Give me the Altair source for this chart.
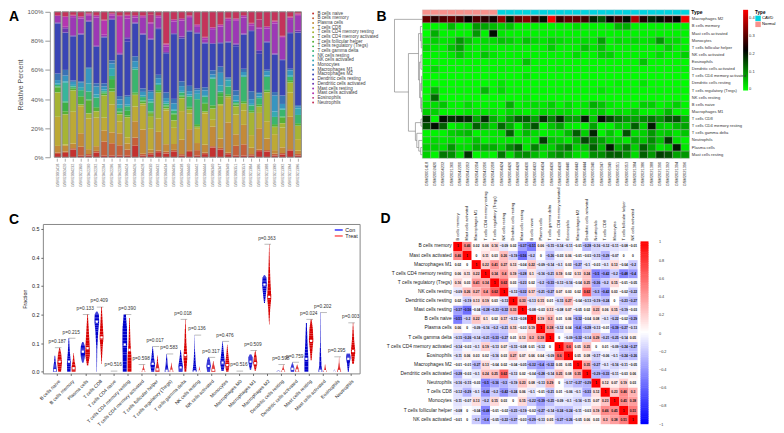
import altair as alt
import pandas as pd

FONT = "Liberation Sans"
samples = ["GSM2001418","GSM2002420","GSM2004232","GSM2021360","GSM2042200","GSM2042202","GSM2042204","GSM2042206",
           "GSM2042208","GSM2004424","GSM2004426","GSM2004428","GSM2004430","GSM2004432","GSM2004434","GSM2004436",
           "GSM2004438","GSM2004440","GSM2004442","GSM2004444","GSM2006340","GSM2006347","GSM2006349","GSM2006351",
           "GSM2006353","GSM2021384","GSM2021386","GSM2021388","GSM2021390","GSM2021392","GSM2021394","GSM2021396"]
sample_type = ["Normal"] * 9 + ["CAVD"] * 23

heat_rows = {
 "Macrophages M2": [.31,.26,.29,.31,.28,.23,.29,.26,.24,.35,.20,.31,.34,.27,.21,.44,.27,.31,.31,.28,.19,.15,.23,.27,.21,.38,.25,.19,.21,.25,.22,.44],
 "B cells memory": [.01,.01,.01,.06,.01,.01,.09,.08,.06,.04,.05,.01,.01,.01,.01,.01,.01,.01,.03,.01,.01,.01,.01,.06,.07,.01,.01,.01,.01,.01,.01,.01],
 "Mast cells activated": [0,.07,.01,.01,.01,.01,.09,.01,.21,.02,.01,.01,.01,.01,.01,.01,.01,.01,.01,.01,.01,.01,.01,.01,.01,.01,.01,.01,.01,.01,.01,.01],
 "Monocytes": [.02,.04,.02,.03,.09,.05,.02,.03,.03,.05,.04,.02,.05,.03,.02,.04,.03,.02,.02,.03,.02,.08,.01,.03,.02,.03,.02,.03,.09,.03,.03,.01],
 "T cells follicular helper": [.03,.02,.01,.05,.08,.02,.01,.02,.01,.01,.01,.01,.01,.01,.01,.04,.01,.01,.01,.05,.02,.05,.01,.01,.01,.01,.01,.01,.01,.04,.01,.01],
 "NK cells activated": [.01,.01,.01,.02,.05,.02,.01,.05,.02,.01,.01,.01,.01,.01,.01,.01,.01,.01,.03,.01,.01,.04,.04,.01,.01,.01,.01,.01,.03,.01,.01,.04],
 "Eosinophils": [.005,.005,.005,.005,.005,.005,.005,.005,.005,.005,.005,.005,.05,.005,.005,.005,.005,.005,.005,.005,.005,.005,.005,.005,.005,.005,.05,.005,.005,.005,.005,.005],
 "Dendritic cells activated": [.005,.03,.005,.005,.005,.005,.005,.005,.005,.01,.005,.005,.005,.005,.005,.005,.01,.005,.005,.005,.005,.005,.005,.005,.005,.005,.005,.005,.005,.005,.005,.01],
 "T cells CD4 memory activated": [.002,.002,.002,.002,.002,.002,.002,.002,.002,.002,.002,.002,.02,.002,.002,.002,.002,.002,.002,.002,.002,.002,.002,.002,.002,.002,.002,.002,.002,.002,.002,.002],
 "Dendritic cells resting": [.002,.002,.002,.002,.002,.002,.002,.002,.002,.02,.002,.002,.002,.002,.002,.002,.002,.002,.002,.002,.002,.002,.002,.01,.002,.002,.02,.002,.002,.002,.002,.002],
 "T cells regulatory (Tregs)": [.005,.06,.005,.005,.005,.005,.005,.06,.005,.03,.005,.005,.005,.005,.005,.005,.005,.005,.005,.005,.005,.02,.005,.005,.005,.005,.005,.005,.005,.005,.005,.005],
 "NK cells resting": [0,.13,0,0,0,0,0,0,0,0,0,0,.01,0,0,0,0,0,0,0,0,0,0,0,0,0,0,0,0,0,0,0],
 "B cells naive": [.02,.03,.05,.01,.01,.03,.01,.01,.01,.01,.07,.01,.02,.03,.02,.04,.01,.03,.01,.02,.07,.05,.02,.01,.01,.01,.04,.04,.01,.02,.04,.01],
 "Macrophages M1": [.04,.04,.01,.01,.01,.02,.02,.02,.02,.01,.03,.02,.01,.02,.03,.03,.03,.03,.01,.02,.03,.04,.01,.03,.02,.05,.01,.01,.02,.06,.01,.01],
 "T cells CD8": [.18,.01,.21,.18,.19,.18,.08,.18,.07,.04,.09,.14,.14,.08,.18,.11,.18,.09,.08,.20,.05,.21,.16,.12,.09,.08,.10,.12,.09,.14,.15,.07],
 "T cells CD4 memory resting": [.15,.21,.14,.01,.03,.04,.14,.08,.04,.13,.07,.01,.08,.15,.01,.05,.08,.02,.01,.01,.08,.01,.01,.05,.04,.14,.04,.20,.04,.03,.06,.08],
 "T cells gamma delta": [.01,.01,.01,.04,.05,.06,.01,.02,.02,.03,.14,.02,.06,.03,.01,.02,.02,.06,.14,.04,.19,.01,.05,.01,.15,.03,.04,.09,.04,.05,.02,.05],
 "Neutrophils": [.02,.03,.02,.03,.01,.02,.05,.01,.02,.02,.02,.02,.02,.02,.17,.05,.04,.02,.07,.16,.11,.08,.04,.04,.02,.07,.05,.10,.05,.17,.03,.01],
 "Plasma cells": [.04,.04,.03,.09,.03,.03,.07,.07,.07,.04,.10,.14,.02,.11,.04,.04,.09,.12,.04,.05,.14,.06,.20,.07,.12,.04,.14,.08,.02,.04,.20,.02],
 "Mast cells resting": [.04,.01,.12,.10,.03,.18,.01,.02,.01,.12,.03,.09,.10,.06,.03,.08,.10,.07,.03,.02,.10,.10,.14,.14,.10,.03,.14,.09,.17,.15,.08,.09],
}
heat_order = list(heat_rows)

stack_types = ["B cells naive","B cells memory","Plasma cells","T cells CD8","T cells CD4 memory resting",
               "T cells CD4 memory activated","T cells follicular helper","T cells regulatory (Tregs)",
               "T cells gamma delta","NK cells resting","NK cells activated","Monocytes","Macrophages M1",
               "Macrophages M2","Dendritic cells resting","Dendritic cells activated","Mast cells resting",
               "Mast cells activated","Eosinophils","Neutrophils"]
stack_colors = ["#C4312F","#C6603A","#C38A38","#BDA935","#A6B434","#7EB232","#57B136","#3DB046","#3AB56E","#38B59B",
                "#36A9B2","#3795C0","#3A72B5","#3A45B5","#4B3AB5","#6C36B0","#9C38B5","#B535B0","#B8347E","#C4335A"]

corr_names = ["B cells memory","Mast cells activated","Macrophages M1","T cells CD4 memory resting","T cells regulatory (Tregs)",
              "NK cells resting","Dendritic cells resting","Mast cells resting","B cells naive","Plasma cells",
              "T cells gamma delta","T cells CD4 memory activated","Eosinophils","Macrophages M2","Dendritic cells activated",
              "Neutrophils","T cells CD8","Monocytes","T cells follicular helper","NK cells activated"]
corr_vals = [
 [1,.46,.02,.06,.16,-.09,.02,-.37,-.51,.06,-.15,-.14,-.11,-.01,-.28,-.16,-.12,-.11,-.08,-.01],
 [.46,1,0,.11,.03,.26,-.19,-.56,-.2,0,-.26,-.03,.06,-.01,-.03,-.15,-.29,-.07,0,0],
 [.02,0,1,.22,.41,.27,.13,-.04,.22,-.09,-.14,-.1,.03,-.27,-.1,-.03,-.1,.13,-.04,-.2],
 [.06,.11,.22,1,.34,.4,.19,-.28,.1,-.16,-.21,.19,.02,.13,.24,-.5,-.42,-.2,-.48,-.4],
 [.16,.03,.41,.34,1,.62,.03,-.23,.02,-.2,-.33,-.13,-.16,-.04,.25,-.36,-.2,.15,-.01,-.05],
 [-.09,.26,.27,.4,.62,1,-.13,-.32,.17,-.21,-.27,.07,.03,.02,.62,-.3,-.42,.03,-.02,-.22],
 [.02,-.19,.13,.19,.03,-.13,1,.33,-.13,.15,.01,-.15,.27,-.04,-.13,-.19,-.24,0,-.23,-.27],
 [-.37,-.56,-.04,-.28,-.23,-.32,.33,1,-.08,-.03,.13,-.08,.07,-.05,.02,.23,.06,.15,-.19,-.03],
 [-.51,-.2,.22,.1,.02,.17,-.13,-.08,1,.19,.3,.01,.06,-.32,-.04,.08,-.1,-.22,-.02,-.29],
 [.06,0,-.09,-.16,-.2,-.21,.15,-.03,.19,1,.38,-.12,.04,-.4,-.28,-.13,-.01,-.39,-.27,-.13],
 [-.15,-.26,-.14,-.21,-.33,-.27,.01,.13,.3,.38,1,0,-.09,-.32,-.14,.29,-.21,-.25,-.14,.05],
 [-.14,-.03,-.1,.19,-.13,.07,-.15,-.08,.01,-.12,0,1,.6,.05,.25,0,.01,-.09,-.24,-.27],
 [-.11,.06,.03,.02,-.16,.03,.27,.07,.06,.04,-.09,.6,1,.05,.08,-.17,-.06,-.1,-.24,-.26],
 [-.01,-.01,-.27,.13,-.04,.02,-.04,-.05,-.32,-.4,-.32,.05,.05,1,.35,-.27,-.1,-.16,-.11,-.05],
 [-.28,-.03,-.1,.24,.25,.62,-.13,.02,-.04,-.28,-.14,.25,.08,.35,1,-.29,-.33,-.11,-.03,.06],
 [-.16,-.15,-.03,-.5,-.36,-.3,-.19,.23,.08,-.13,.29,0,-.17,-.27,-.29,1,.12,.07,.19,.03],
 [-.12,-.29,-.1,-.42,-.2,-.42,-.24,.06,-.1,-.01,-.21,.01,-.06,-.1,-.33,.12,1,.23,.46,.3],
 [-.11,-.07,.13,-.2,.15,.03,0,.15,-.22,-.39,-.25,-.09,-.1,-.16,-.11,.07,.23,1,.45,.38],
 [-.08,0,-.04,-.48,-.01,-.02,-.23,-.19,-.02,-.27,-.14,-.24,-.24,-.11,-.03,.19,.46,.45,1,.51],
 [-.01,0,-.2,-.4,-.05,-.22,-.27,-.03,-.29,-.13,.05,-.27,-.26,-.05,.06,.03,.3,.38,.51,1],
]
cbar_ticks = [-1, -.8, -.6, -.4, -.2, 0, .2, .4, .6, .8, 1]

vio_names = ["B cells naive","B cells memory","Plasma cells","T cells CD8","T cells CD4 naive","T cells CD4 memory resting",
             "T cells CD4 memory activated","T cells follicular helper","T cells regulatory (Tregs)","T cells gamma delta",
             "NK cells resting","NK cells activated","Monocytes","Macrophages M0","Macrophages M1","Macrophages M2",
             "Dendritic cells resting","Dendritic cells activated","Mast cells resting","Mast cells activated",
             "Eosinophils","Neutrophils"]
p_labels = ["p=0.187","p=0.215","p=0.133","p=0.409","p=0.516","p=0.390","p=0.598","p=0.017","p=0.583","p=0.018","p=0.136",
            "p=0.317","p=0.476","p=0.516","p=0.509","p=0.363","p=0.598","p=0.759","p=0.024","p=0.202","p=0.295","p=0.003"]
p_tops = [.084,.117,.2,.226,.002,.2,.025,.088,.062,.183,.128,.05,.106,.002,.074,.446,.025,.033,.183,.207,.052,.171]
# violin outlines: (fraction, half width in category units)
con_shapes = [
 [(0,.14),(.01,.13),(.03,.07),(.056,.02)],
 [(0,.12),(.03,.14),(.07,.07),(.117,.02)],
 [(.032,.05),(.05,.14),(.07,.17),(.09,.14),(.103,.05)],
 [(0,.01),(.08,.03),(.14,.1),(.175,.17),(.2,.15),(.21,.05)],
 [(0,.06),(.001,.06)],
 [(0,.14),(.06,.15),(.1,.17),(.15,.16),(.2,.08)],
 [(0,.05),(.002,.03)],
 [(0,.1),(.025,.17),(.05,.09),(.088,.01)],
 [(0,.15),(.02,.08),(.04,.05),(.062,.01)],
 [(0,.14),(.02,.16),(.05,.07),(.075,.02)],
 [(0,.15),(.03,.08),(.08,.02),(.128,.005)],
 [(0,.1),(.02,.16),(.04,.1),(.05,.03)],
 [(.003,.08),(.03,.17),(.07,.08),(.106,.01)],
 [(0,.06),(.001,.06)],
 [(.007,.04),(.03,.14),(.05,.16),(.06,.06)],
 [(.24,.03),(.27,.1),(.305,.17),(.33,.14),(.338,.03)],
 [(0,.15),(.003,.08),(.005,.02)],
 [(0,.12),(.012,.14),(.025,.06),(.033,.01)],
 [(0,.14),(.045,.14),(.1,.08),(.17,.03)],
 [(0,.15),(.02,.08),(.1,.02),(.207,.01)],
 [(0,.1),(.004,.05),(.007,.01)],
 [(0,.03),(.03,.1),(.05,.17),(.063,.12)],
]
trt_shapes = [
 [(0,.1),(.03,.17),(.06,.12),(.084,.02)],
 [(0,.14),(.015,.15),(.04,.06),(.065,.01)],
 [(.022,.04),(.06,.17),(.1,.14),(.15,.08),(.2,.02)],
 [(.027,.01),(.08,.07),(.12,.14),(.17,.08),(.226,.02)],
 [(0,.06),(.001,.06)],
 [(0,.14),(.05,.14),(.1,.07),(.15,.04),(.188,.02)],
 [(0,.14),(.006,.09),(.015,.03),(.025,.01)],
 [(0,.15),(.012,.13),(.03,.05),(.057,.01)],
 [(0,.15),(.008,.09),(.02,.03),(.031,.01)],
 [(0,.06),(.05,.14),(.1,.07),(.183,.01)],
 [(0,.1),(.005,.04),(.018,.005)],
 [(0,.15),(.012,.12),(.025,.05),(.037,.01)],
 [(0,.08),(.025,.16),(.06,.07),(.094,.01)],
 [(0,.06),(.001,.06)],
 [(.003,.03),(.03,.15),(.05,.1),(.074,.01)],
 [(.165,.01),(.22,.07),(.26,.15),(.32,.08),(.38,.04),(.446,.01)],
 [(0,.15),(.006,.09),(.015,.03),(.025,.005)],
 [(0,.15),(.008,.12),(.018,.05),(.025,.01)],
 [(.04,.03),(.08,.1),(.11,.16),(.15,.12),(.183,.03)],
 [(0,.15),(.006,.06),(.025,.01)],
 [(0,.15),(.01,.09),(.03,.02),(.052,.005)],
 [(.028,.06),(.07,.16),(.11,.08),(.171,.01)],
]
con_med = [.005,.035,.07,.175,0,.095,0,.028,.003,.015,.001,.02,.032,0,.035,.305,0,.01,.045,.003,.001,.045]
trt_med = [.035,.012,.082,.12,0,.076,.002,.008,.003,.058,.001,.006,.023,0,.03,.262,.002,.004,.108,.002,.002,.072]
groups = ["Con", "Treat"]
group_colors = ["#0000CC", "#D80000"]

# dendrogram branches: height1, row1, height2, row2
dendro_segs = [
 (1,0,1,10.2),(1,0,0,0),(1,10.2,.5,10.2),(.5,4.8,.5,15.7),(.5,4.8,.14,4.8),(.14,2,.14,8.5),
 (.14,2,.07,2),(.07,1,.07,3),(.07,1,0,1),(.07,3,.04,3),(.04,2,.04,4),(.04,2,0,2),(.04,4,0,4),
 (.14,8.5,.1,8.5),(.1,6,.1,11),(.1,6,.05,6),(.05,5,.05,7),(.05,5,0,5),(.05,7,0,7),
 (.1,11,.06,11),(.06,9,.06,12.5),(.06,9,.03,9),(.03,8,.03,10),(.03,8,0,8),(.03,10,0,10),
 (.06,12.5,.03,12.5),(.03,11,.03,13),(.03,11,0,11),(.03,13,0,13),(.03,12,0,12),
 (.5,15.7,.25,15.7),(.25,14.5,.25,17),(.25,14.5,.05,14.5),(.05,14,.05,15),(.05,14,0,14),(.05,15,0,15),
 (.25,17,.2,17),(.2,16,.2,18),(.2,16,0,16),(.2,18,.13,18),(.13,17,.13,18.5),(.13,17,0,17),
 (.13,18.5,.06,18.5),(.06,18,.06,19),(.06,18,0,18),(.06,19,0,19),
]

# ---------- tables ----------
stack_df = pd.DataFrame([{"sample": s, "type": t, "idx": k, "v": heat_rows[t][i]}
                         for i, s in enumerate(samples) for k, t in enumerate(stack_types)])
outline_df = pd.DataFrame({"sample": samples, "v": [1] * len(samples)})
heat_df = pd.DataFrame([{"sample": s, "row": r, "v": heat_rows[r][i]}
                        for i, s in enumerate(samples) for r in heat_order])
ann_df = pd.DataFrame({"sample": samples, "Type": sample_type})
seg_df = pd.DataFrame(dendro_segs, columns=["h1", "r1", "h2", "r2"])
corr_df = pd.DataFrame([{"a": a, "b": b, "v": corr_vals[i][j]}
                        for i, a in enumerate(corr_names) for j, b in enumerate(corr_names)])
cbar_df = pd.DataFrame([{"v": k / 50, "v2": (k + 1.3) / 50} for k in range(-50, 50)])

rows = []
meds = []
for i, (cs, ts) in enumerate(zip(con_shapes, trt_shapes)):
    for grp, sh, off, med_v in (("Con", cs, -.17, con_med[i]), ("Treat", ts, .17, trt_med[i])):
        c = i + off
        for (y0, w0), (y1, w1) in zip(sh[:-1], sh[1:]):
            for s in range(5):
                a = s / 5
                b = (s + 1) / 5
                w = w0 + (w1 - w0) * (a + b) / 2
                rows.append({"grp": grp, "y": y0 + (y1 - y0) * a, "y2": y0 + (y1 - y0) * b,
                             "xa": c - w, "xb": c + w})
        meds.append({"x": c, "y": med_v})
vio_df = pd.DataFrame(rows)
med_df = pd.DataFrame(meds)
p_df = pd.DataFrame({"i": list(range(22)), "x1": [i - .17 for i in range(22)], "x2": [i + .3 for i in range(22)],
                     "top": p_tops, "lab": p_labels, "ty": [t + .02 for t in p_tops]})
leg_df = pd.DataFrame({"grp": groups, "yp": [.496, .475], "x1": [19.86, 19.86], "x2": [20.43, 20.43],
                       "xt": [20.62, 20.62]})


def spacer(w, h=1):
    return alt.Chart(pd.DataFrame({"a": [0]})).mark_point(opacity=0).encode(
        x=alt.value(0), y=alt.value(0)).properties(width=w, height=h)


def letter(s, x, y):
    return alt.Chart(pd.DataFrame({"s": [s]})).mark_text(
        fontSize=14, fontWeight="bold", align="left", baseline="top", color="black", font=FONT
    ).encode(text="s:N", x=alt.value(x), y=alt.value(y))


def indep(c):
    return c.resolve_scale(color="independent", fill="independent", stroke="independent").resolve_legend(
        color="independent", fill="independent", stroke="independent")


GREY = "#666666"
# ---------- A ----------
axA_x = alt.Axis(labelAngle=-90, labelFontSize=3.8, labelColor=GREY, tickColor="#999999", tickSize=3,
                 tickWidth=.8, domain=False, offset=1, labelPadding=2, labelBaseline="middle",
                 labelOverlap=False, title=None)
axA_y = alt.Axis(format=".0%", values=[0, .2, .4, .6, .8, 1], labelFontSize=6.2, labelColor="#555555",
                 titleFontSize=7, titleColor="#555555", titleFontWeight="normal", domainColor="#999999",
                 tickColor="#999999", domainWidth=1, tickWidth=1, tickSize=5, grid=False, offset=4,
                 labelPadding=2, titlePadding=4, labelOverlap=False, title="Relative Percent")
scA_x = alt.Scale(paddingInner=.13, paddingOuter=.06)
scA_y = alt.Scale(domain=[0, 1], nice=False)
bars = alt.Chart(stack_df).mark_bar().encode(
    x=alt.X("sample:N", sort=samples, scale=scA_x, axis=axA_x),
    y=alt.Y("v:Q", stack="normalize", scale=scA_y, axis=axA_y),
    color=alt.Color("type:N", sort=stack_types, scale=alt.Scale(domain=stack_types, range=stack_colors),
                    legend=alt.Legend(orient="none", legendX=258, legendY=-.5, title=None, symbolType="circle",
                                      symbolSize=4, labelFontSize=4.6, labelColor="#444444", rowPadding=-.3,
                                      padding=0, symbolOffset=0, labelOffset=2)),
    order=alt.Order("idx:Q"))
outline = alt.Chart(outline_df).mark_bar(fillOpacity=0, stroke="#8c8c8c", strokeWidth=1).encode(
    x=alt.X("sample:N", sort=samples, scale=scA_x, axis=axA_x),
    y=alt.Y("v:Q", scale=scA_y, axis=axA_y))
panelA = alt.layer(bars, outline, letter("A", -45, -2)).properties(width=249, height=146)

# ---------- B ----------
ann = alt.layer(
    alt.Chart(ann_df).mark_rect(stroke="#bbbbbb", strokeWidth=.3).encode(
        x=alt.X("sample:N", sort=samples, axis=None),
        y=alt.value(-2), y2=alt.value(3),
        fill=alt.Fill("Type:N", scale=alt.Scale(domain=["CAVD", "Normal"], range=["#00D3E0", "#F8918C"]),
                      legend=alt.Legend(orient="none", legendX=334, legendY=-2, title="Type", titleFontSize=4.6,
                                        titleFontWeight="bold", titlePadding=1, labelFontSize=4.2, symbolType="square",
                                        symbolSize=30, symbolStrokeWidth=0, padding=0, rowPadding=0, labelOffset=1))),
    alt.Chart(pd.DataFrame({"s": ["Type"]})).mark_text(
        fontSize=5, fontWeight="bold", align="left", baseline="middle", color="black", font=FONT
    ).encode(text="s:N", x=alt.value(270), y=alt.value(.5)),
).properties(width=268, height=3)
heat = alt.Chart(heat_df).mark_rect(stroke="#9a9a9a", strokeWidth=.4).encode(
    x=alt.X("sample:N", sort=samples, title=None,
            axis=alt.Axis(labelAngle=-90, labelFontSize=4, labelColor="#333333", ticks=False, domain=False,
                          labelPadding=3, labelBaseline="middle", labelOverlap=False)),
    y=alt.Y("row:N", sort=heat_order, title=None,
            axis=alt.Axis(orient="right", labelFontSize=4.1, labelColor="#333333", ticks=False, domain=False,
                          labelPadding=2, labelOverlap=False)),
    fill=alt.Fill("v:Q", scale=alt.Scale(domain=[0, .223, .446], range=["#00ff00", "#000000", "#ff0000"],
                                         interpolate="rgb"),
                  legend=alt.Legend(orient="none", legendX=322, legendY=-6, title=None, gradientLength=81,
                                    gradientThickness=5, values=[0, .1, .2, .3, .4], labelFontSize=4, padding=0,
                                    format="~g", labelColor="#333333", labelOffset=1)),
).properties(width=268, height=143)
dendro = alt.layer(
    alt.Chart(seg_df).mark_rule(color="#777777", strokeWidth=.6).encode(
        x=alt.X("h1:Q", scale=alt.Scale(domain=[1, 0], nice=False), axis=None),
        x2="h2:Q",
        y=alt.Y("r1:Q", scale=alt.Scale(domain=[19.5, -1.06], nice=False), axis=None),
        y2="r2:Q"),
    letter("B", -18, -2),
).properties(width=28, height=147)
panelB = indep(alt.vconcat(ann, heat, spacing=1, bounds="flush"))

# ---------- C ----------
scC_x = alt.Scale(domain=[-1.03, 21.64], nice=False)
scC_y = alt.Scale(domain=[-.006, .517], nice=False)
axC_x = alt.Axis(title=None, values=list(range(22)), labelExpr="%s[datum.value]" % str(vio_names),
                 labelAngle=-45, labelAlign="right", labelBaseline="top", labelFontSize=4.8,
                 labelColor="#222222", tickColor="#666666", tickSize=2, grid=False, domain=False,
                 labelPadding=3, labelOverlap=False, labelBound=False, labelFlush=False)
axC_y = alt.Axis(title="Fraction", values=[0, .1, .2, .3, .4, .5], format=".1f", labelFontSize=5.4,
                 labelColor="#222222", tickColor="#666666", tickSize=2, grid=False, domain=False,
                 titleFontSize=5.4, titleFontWeight="normal", titleColor="#222222", titlePadding=4,
                 labelOverlap=False)
grp_scale = alt.Scale(domain=groups, range=group_colors)
vio = alt.Chart(vio_df).mark_rect().encode(
    x=alt.X("xa:Q", scale=scC_x, axis=axC_x), x2="xb:Q",
    y=alt.Y("y:Q", scale=scC_y, axis=axC_y), y2="y2:Q",
    fill=alt.Fill("grp:N", scale=grp_scale, legend=None))
med = alt.Chart(med_df).mark_point(shape="square", filled=True, color="white", size=5, opacity=1).encode(
    x=alt.X("x:Q", scale=scC_x, axis=axC_x), y=alt.Y("y:Q", scale=scC_y, axis=axC_y))
brack = alt.Chart(p_df).mark_rule(color="#555555", strokeWidth=.4).encode(
    x=alt.X("x1:Q", scale=scC_x, axis=axC_x), x2="x2:Q", y=alt.Y("top:Q", scale=scC_y, axis=axC_y))
ptext = alt.Chart(p_df).mark_text(fontSize=4.8, color="#333333", font=FONT).encode(
    x=alt.X("i:Q", scale=scC_x, axis=axC_x), y=alt.Y("ty:Q", scale=scC_y, axis=axC_y), text="lab:N")
leg_lines = alt.Chart(leg_df).mark_rule(strokeWidth=1.2).encode(
    x=alt.X("x1:Q", scale=scC_x, axis=axC_x), x2="x2:Q", y=alt.Y("yp:Q", scale=scC_y, axis=axC_y),
    color=alt.Color("grp:N", scale=alt.Scale(domain=groups, range=["#0000FF", "#FF3030"]), legend=None))
leg_text = alt.Chart(leg_df).mark_text(fontSize=5.4, align="left", color="#222222", font=FONT).encode(
    x=alt.X("xt:Q", scale=scC_x, axis=axC_x), y=alt.Y("yp:Q", scale=scC_y, axis=axC_y), text="grp:N")
panelC = alt.layer(vio, med, brack, ptext, leg_lines, leg_text, letter("C", -34, -11)).properties(
    width=318, height=150, view=alt.ViewConfig(stroke="#888888", strokeWidth=1))

# ---------- D ----------
corr_scale = alt.Scale(domain=[-1, 0, 1], range=["#0000ff", "#ffffff", "#ff0000"], interpolate="rgb")
base_x = alt.X("b:N", sort=corr_names,
               axis=alt.Axis(title=None, orient="top", labelAngle=-90, labelFontSize=4, labelColor="#222222",
                             ticks=False, domain=False, labelPadding=2, labelAlign="left", labelBaseline="middle",
                             labelOverlap=False))
base_y = alt.Y("a:N", sort=corr_names,
               axis=alt.Axis(title=None, labelFontSize=4.9, labelColor="#222222", ticks=False, domain=False,
                             labelPadding=2, labelOverlap=False))
cells = alt.Chart(corr_df).mark_rect().encode(
    x=base_x, y=base_y, fill=alt.Fill("v:Q", scale=corr_scale, legend=None))
ctext = alt.Chart(corr_df).mark_text(fontSize=3.3, color="#111111", fontWeight="bold", font=FONT).encode(
    x=base_x, y=base_y, text=alt.Text("v:Q", format=".2~f"))
panelD = alt.layer(cells, ctext, letter("D", -73, -30)).properties(width=185, height=183)
cbar = alt.Chart(cbar_df).mark_rect().encode(
    x=alt.value(0), x2=alt.value(8),
    y=alt.Y("v:Q", scale=alt.Scale(domain=[-1, 1], nice=False),
            axis=alt.Axis(title=None, orient="right", values=cbar_ticks, format="~g", labelFontSize=3.8,
                          labelColor="#333333", domain=False, ticks=False, grid=False, labelPadding=10,
                          labelOverlap=False)),
    y2="v2:Q",
    fill=alt.Fill("v:Q", scale=corr_scale, legend=None),
).properties(width=8, height=183)
d_row = indep(alt.hconcat(panelD, spacer(3), cbar, spacing=0, bounds="flush"))
d_col = indep(alt.vconcat(spacer(1, 18), d_row, spacing=0, bounds="flush"))

top = indep(alt.hconcat(spacer(11), panelA, spacer(93), dendro, panelB, spacing=0, bounds="flush"))
bottom = indep(alt.hconcat(panelC, spacer(94), d_col, spacing=0, bounds="flush"))
chart = indep(alt.vconcat(top, bottom, spacing=-1)).properties(
    padding={"left": 0, "top": 0, "right": 0, "bottom": 0}
).configure(font=FONT, view=alt.ViewConfig(stroke=None), background="white")
chart.save("out.html", embed_options={"renderer": "svg", "actions": False})
